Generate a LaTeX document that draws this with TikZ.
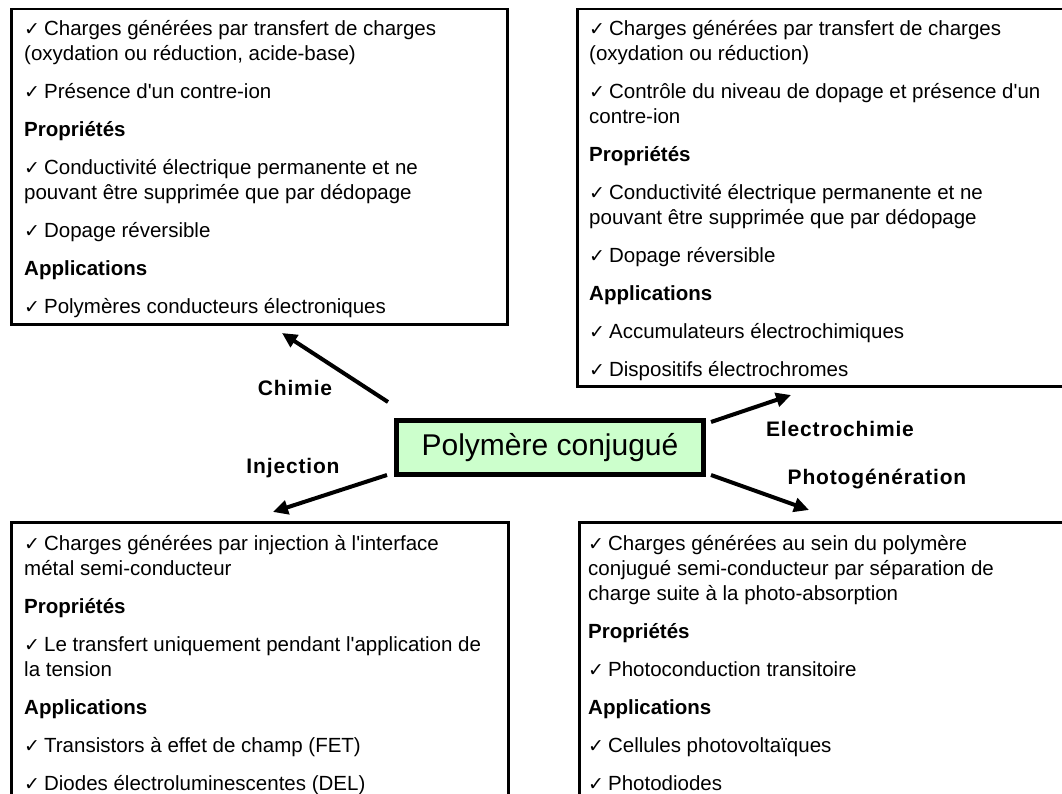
\documentclass[tikz,border=0pt]{standalone}
\usepackage{fontspec}
\setmainfont{Liberation Sans}
\newfontfamily\symfont{DejaVu Sans}
\usetikzlibrary{arrows.meta}
\newcommand{\mycheck}{{\symfont\fontsize{19}{19}\selectfont ✓}\hspace{4pt}}
\newcommand{\apo}{\textquotesingle}
\definecolor{boxgreen}{HTML}{CCFFCC}
\tikzset{
  panel/.style={draw=black, line width=2.5pt, fill=white, rectangle, anchor=north west, inner sep=0pt},
  bodytext/.style={align=left, inner sep=0pt, anchor=north west, font=\fontsize{20.5}{25}\selectfont},
  centerbox/.style={draw=black, line width=5pt, fill=boxgreen, rectangle, inner sep=0pt, font=\fontsize{30}{30}\selectfont},
  edgelabel/.style={font=\fontsize{21}{21}\selectfont\bfseries\addfontfeature{LetterSpace=4}, inner sep=0pt},
  bigarrow/.style={line width=4pt, -{Triangle[length=15pt,width=14pt]}}
}
\begin{document}
\begin{tikzpicture}[x=1pt,y=1pt]
\useasboundingbox (0,0) rectangle (1062,-794);
\fill[white] (0,0) rectangle (1062,-794);
\clip (0,0) rectangle (1062,-794);

% panels
\node[panel, minimum width=496pt, minimum height=315pt] (tlbox) at (10,-8) {};
\node[panel, minimum width=510pt, minimum height=377pt] (trbox) at (576,-8) {};
\node[panel, minimum width=497pt, minimum height=300pt] (blbox) at (10,-521) {};
\node[panel, minimum width=510pt, minimum height=300pt] (brbox) at (578,-521) {};

\node[bodytext] (tltext) at (24,-15) {\rule{0pt}{20pt}\mycheck Charges générées par transfert de charges\\
(oxydation ou réduction, acide-base)\\[13pt]
\mycheck Présence d\apo un contre-ion\\[13pt]
\textbf{Propriétés}\\[13pt]
\mycheck Conductivité électrique permanente et ne\\
pouvant être supprimée que par dédopage\\[13pt]
\mycheck Dopage réversible\\[13pt]
\textbf{Applications}\\[13pt]
\mycheck Polymères conducteurs électroniques};

\node[bodytext] (trtext) at (589,-15) {\rule{0pt}{20pt}\mycheck Charges générées par transfert de charges\\
(oxydation ou réduction)\\[13pt]
\mycheck Contrôle du niveau de dopage et présence d\apo un\\
contre-ion\\[13pt]
\textbf{Propriétés}\\[13pt]
\mycheck Conductivité électrique permanente et ne\\
pouvant être supprimée que par dédopage\\[13pt]
\mycheck Dopage réversible\\[13pt]
\textbf{Applications}\\[13pt]
\mycheck Accumulateurs électrochimiques\\[13pt]
\mycheck Dispositifs électrochromes};

\node[bodytext] (bltext) at (24,-530) {\rule{0pt}{20pt}\mycheck Charges générées par injection à l\apo interface\\
métal semi-conducteur\\[13pt]
\textbf{Propriétés}\\[13pt]
\mycheck Le transfert uniquement pendant l\apo application de\\
la tension\\[13pt]
\textbf{Applications}\\[13pt]
\mycheck Transistors à effet de champ (FET)\\[13pt]
\mycheck Diodes électroluminescentes (DEL)};

\node[bodytext] (brtext) at (588,-530) {\rule{0pt}{20pt}\mycheck Charges générées au sein du polymère\\
conjugué semi-conducteur par séparation de\\
charge suite à la photo-absorption\\[13pt]
\textbf{Propriétés}\\[13pt]
\mycheck Photoconduction transitoire\\[13pt]
\textbf{Applications}\\[13pt]
\mycheck Cellules photovoltaïques\\[13pt]
\mycheck Photodiodes};

% center
\node[centerbox, minimum width=307pt, minimum height=54pt] (poly) at (550,-447.5) {Polymère conjugué};

% arrow endpoints
\coordinate (chimA) at (388,-402);
\coordinate (chimB) at (282,-333);
\coordinate (injA) at (387,-475);
\coordinate (injB) at (273,-512);
\coordinate (elecA) at (711,-422);
\coordinate (elecB) at (791,-395);
\coordinate (photA) at (711,-475);
\coordinate (photB) at (809,-510);

\draw[bigarrow] (chimA) -- (chimB);
\draw[bigarrow] (injA) -- (injB);
\draw[bigarrow] (elecA) -- (elecB);
\draw[bigarrow] (photA) -- (photB);

\node[edgelabel] (lchim) at (295,-388) {Chimie};
\node[edgelabel] (linj) at (293,-468) {Injection};
\node[edgelabel] (lelec) at (840,-429) {Electrochimie};
\node[edgelabel] (lphot) at (877,-479) {Photogénération};
\end{tikzpicture}
\end{document}
